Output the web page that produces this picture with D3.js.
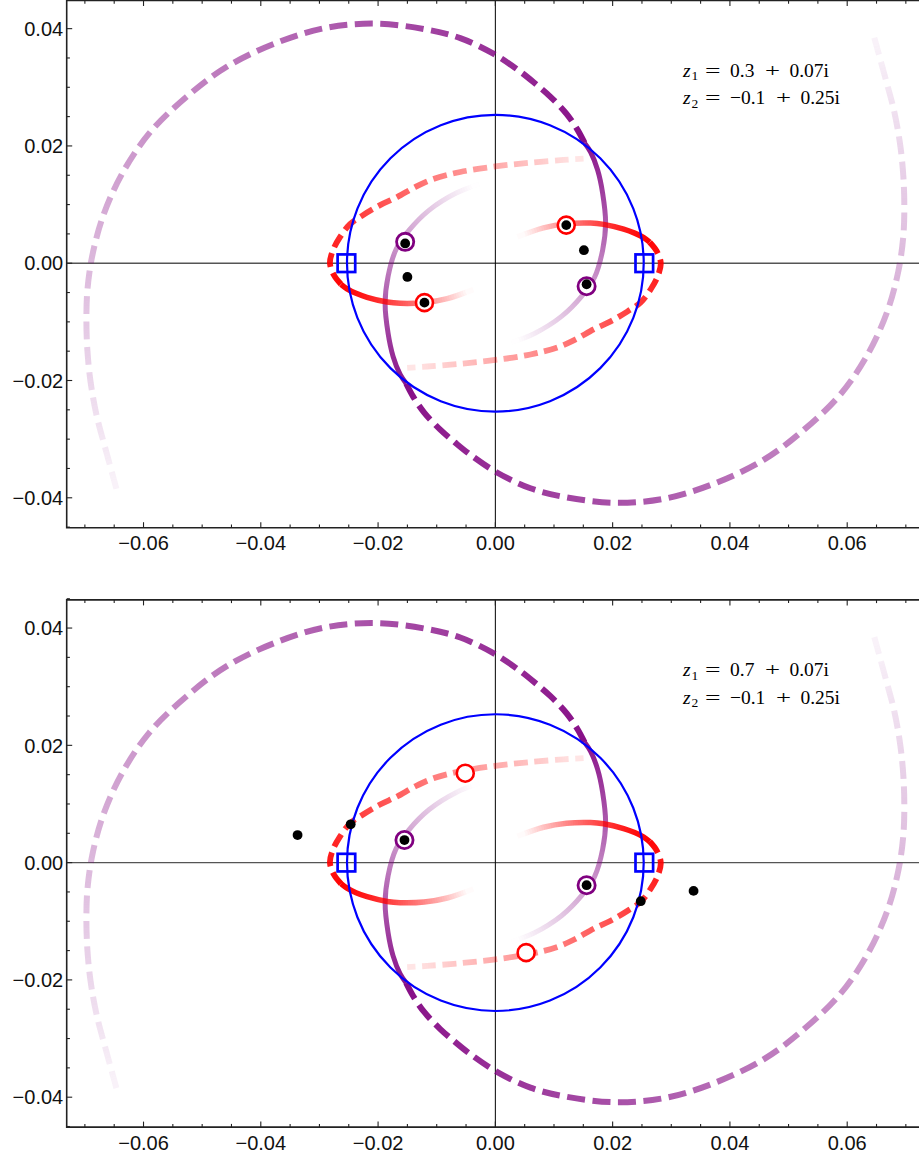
<!DOCTYPE html>
<html><head><meta charset="utf-8">
<script src="https://cdn.jsdelivr.net/npm/d3@7"></script>
<style>body{margin:0;background:#fff}svg{display:block}</style>
</head><body>
<svg id="c" width="919" height="1155"></svg>
<script>
// ---------- data ----------
const xTicks = [-0.06,-0.04,-0.02,0.00,0.02,0.04,0.06];
const yTicks = [-0.04,-0.02,0.00,0.02,0.04];
const xMinor = [-0.07,-0.065,-0.055,-0.05,-0.045,-0.035,-0.03,-0.025,-0.015,-0.01,-0.005,0.005,0.01,0.015,0.025,0.03,0.035,0.045,0.05,0.055,0.065,0.07];
const yMinor = [-0.045,-0.035,-0.03,-0.025,-0.015,-0.01,-0.005,0.005,0.01,0.015,0.025,0.03,0.035,0.045];

const z1Labels = ["0.3 + 0.07i", "0.7 + 0.07i"];
const z2Labels = ["\u22120.1 + 0.25i", "\u22120.1 + 0.25i"];

const unitCircleR = 0.0253;
const squarePts = [[-0.0254,0],[0.0254,0]];

// red branches (from junction outward)
const redDashA = [[-0.02632,-0.00359],[-0.02752,-0.00205],[-0.02821,0.00000],[-0.02769,0.00222],[-0.02650,0.00444],[-0.02479,0.00667],[-0.02256,0.00821],[-0.01966,0.00991],[-0.01675,0.01128],[-0.01368,0.01299],[-0.01060,0.01436],[-0.00598,0.01556],[0.00000,0.01650],[0.00598,0.01715],[0.01162,0.01761],[0.01504,0.01783]];
const redSolidA = [[-0.02632,-0.00359],[-0.02530,-0.00436],[-0.02376,-0.00513],[-0.02188,-0.00581],[-0.01846,-0.00662],[-0.01624,-0.00684],[-0.01214,-0.00672],[-0.00821,-0.00603],[-0.00376,-0.00450]];
const redDashB = [[0.02632,0.00359],[0.02752,0.00205],[0.02821,0.00000],[0.02769,-0.00222],[0.02650,-0.00444],[0.02479,-0.00667],[0.02256,-0.00821],[0.01966,-0.00991],[0.01675,-0.01128],[0.01368,-0.01299],[0.01060,-0.01436],[0.00598,-0.01556],[0.00000,-0.01650],[-0.00598,-0.01715],[-0.01162,-0.01761],[-0.01504,-0.01783]];
const redSolidB = [[0.02632,0.00359],[0.02530,0.00436],[0.02376,0.00513],[0.02188,0.00581],[0.01846,0.00662],[0.01624,0.00684],[0.01214,0.00672],[0.00821,0.00603],[0.00376,0.00450]];

// purple branches (from junction outward)
const purpleDashA = [[0.01521,0.02051],[0.01402,0.02274],[0.01214,0.02547],[0.00940,0.02838],[0.00684,0.03060],[0.00427,0.03265],[-0.00034,0.03573],[-0.00598,0.03838],[-0.01162,0.03983],[-0.02017,0.04085],[-0.02872,0.04017],[-0.03726,0.03761],[-0.04581,0.03350],[-0.05265,0.02838],[-0.05897,0.02222],[-0.06359,0.01538],[-0.06684,0.00821],[-0.06872,0.00137],[-0.06957,-0.00462],[-0.06974,-0.00974],[-0.06957,-0.01487],[-0.06906,-0.02000],[-0.06803,-0.02581],[-0.06650,-0.03162],[-0.06462,-0.03846]];
const purpleSolidA = [[0.01521,0.02051],[0.01624,0.01897],[0.01744,0.01590],[0.01829,0.01197],[0.01880,0.00684],[0.01829,0.00222],[0.01692,-0.00239],[0.01470,-0.00564],[0.01128,-0.00906],[0.00667,-0.01197],[0.00274,-0.01350]];
const purpleDashB = [[-0.01521,-0.02051],[-0.01402,-0.02274],[-0.01214,-0.02547],[-0.00940,-0.02838],[-0.00684,-0.03060],[-0.00427,-0.03265],[0.00034,-0.03573],[0.00598,-0.03838],[0.01162,-0.03983],[0.02017,-0.04085],[0.02872,-0.04017],[0.03726,-0.03761],[0.04581,-0.03350],[0.05265,-0.02838],[0.05897,-0.02222],[0.06359,-0.01538],[0.06684,-0.00821],[0.06872,-0.00137],[0.06957,0.00462],[0.06974,0.00974],[0.06957,0.01487],[0.06906,0.02000],[0.06803,0.02581],[0.06650,0.03162],[0.06462,0.03846]];
const purpleSolidB = [[-0.01521,-0.02051],[-0.01624,-0.01897],[-0.01744,-0.01590],[-0.01829,-0.01197],[-0.01880,-0.00684],[-0.01829,-0.00222],[-0.01692,0.00239],[-0.01470,0.00564],[-0.01128,0.00906],[-0.00667,0.01197],[-0.00274,0.01350]];

// markers per panel
const redRings = [
  [[0.01209,0.0065],[-0.01209,-0.00672]],
  [[-0.00513,0.01525],[0.00525,-0.01535]]
];
const purpleRings = [
  [[-0.01538,0.00364],[0.01556,-0.00393]],
  [[-0.0155,0.00385],[0.01556,-0.00385]]
];
const blackDots = [
  [[0.01209,0.0065],[-0.01209,-0.00672],[-0.01538,0.00337],[0.01556,-0.00359],[-0.0150,-0.00234],[0.0151,0.00222]],
  [[-0.0155,0.00385],[0.01556,-0.00385],[-0.02467,0.00653],[-0.03373,0.0047],[0.02479,-0.00658],[0.0338,-0.00482]]
];

// ---------- drawing ----------
const svg = d3.select("#c");
const defs = svg.append("defs");
const fmt = d3.format(".2f");
const panelOffsets = [0, 599.4];
const FL = 66.7, FR = 924, FT = 0.5, FB = 527.7;
let maskCount = 0;

// one continuous stroke, faded along its length by a luminance mask
function drawBranch(g, x, y, pts, st){
  const line = d3.line().x(d=>x(d[0])).y(d=>y(d[1])).curve(d3.curveCatmullRom.alpha(0.5));
  const dPath = line(pts);
  const tmp = g.append("path").attr("d", dPath).attr("fill","none").attr("stroke","none");
  const node = tmp.node();
  const L = node.getTotalLength();
  tmp.remove();
  const id = "fade" + (maskCount++);
  const mask = defs.append("mask").attr("id", id).attr("maskUnits","userSpaceOnUse")
    .attr("x",0).attr("y",0).attr("width",919).attr("height",1155);
  const n = Math.max(2, Math.ceil(L/2.5));
  for (let i=0;i<n;i++){
    const s0 = i*L/n, s1 = (i+1)*L/n;
    const p0 = node.getPointAtLength(s0), p1 = node.getPointAtLength(s1);
    const f = ((s0+s1)/2)/L;
    const op = Math.max(0, Math.min(1, st.op0 + (st.op1-st.op0)*Math.pow(f, st.exp||1)));
    const v = Math.round(op*255);
    mask.append("path").attr("d", `M${p0.x},${p0.y}L${p1.x},${p1.y}`)
      .attr("fill","none").attr("stroke",`rgb(${v},${v},${v})`)
      .attr("stroke-width", st.width+6).attr("stroke-linecap","round");
  }
  const p = g.append("path").attr("d", dPath).attr("fill","none")
    .attr("stroke", st.color).attr("stroke-width", st.width)
    .attr("stroke-linecap","butt").attr("mask", `url(#${id})`);
  if (st.dash) p.attr("stroke-dasharray", st.dash.join(" "));
}

panelOffsets.forEach((oy, pi) => {
  const x = d3.scaleLinear().domain([-0.0731, 0.0731]).range([FL, FL + 0.1462*5864]);
  const y = d3.scaleLinear().domain([-0.0451, 0.0448]).range([oy+FB, oy+FT]);
  const g = svg.append("g");
  const clipId = "clip"+pi;
  defs.append("clipPath").attr("id",clipId).append("rect")
    .attr("x",FL).attr("y",oy+FT).attr("width",FR-FL).attr("height",FB-FT);
  const plot = g.append("g").attr("clip-path",`url(#${clipId})`);

  // axes through origin
  plot.append("line").attr("x1",FL).attr("x2",FR).attr("y1",y(0)).attr("y2",y(0))
    .attr("stroke","#555").attr("stroke-width",1.4);
  plot.append("line").attr("x1",x(0)).attr("x2",x(0)).attr("y1",oy+FT).attr("y2",oy+FB)
    .attr("stroke","#000").attr("stroke-width",1);

  const purpleDash = {color:"#800080", width:6, dash:[18,7.5], op0:0.95, op1:0.05};
  const purpleSolid = {color:"#800080", width:5, op0:0.92, op1:0.0, exp:1.2};
  const redDash = {color:"#ff0000", width:5.8, dash:[14,6.5], op0:1, op1:0.1};
  const redSolid = {color:"#ff0000", width:5.5, op0:1, op1:0.0, exp:1.6};

  drawBranch(plot, x, y, purpleDashA, purpleDash);
  drawBranch(plot, x, y, purpleDashB, purpleDash);
  drawBranch(plot, x, y, purpleSolidA, purpleSolid);
  drawBranch(plot, x, y, purpleSolidB, purpleSolid);
  drawBranch(plot, x, y, redDashA, redDash);
  drawBranch(plot, x, y, redDashB, redDash);
  drawBranch(plot, x, y, redSolidA, redSolid);
  drawBranch(plot, x, y, redSolidB, redSolid);

  // unit circle (blue)
  const k = x(1)-x(0);
  plot.append("circle").attr("cx",x(0)).attr("cy",y(0)).attr("r",unitCircleR*k)
    .attr("fill","none").attr("stroke","#0000ff").attr("stroke-width",2.2);

  // squares
  plot.selectAll(null).data(squarePts).join("rect")
    .attr("x",d=>x(d[0])-8.8).attr("y",d=>y(d[1])-8.8).attr("width",17.6).attr("height",17.6)
    .attr("fill","none").attr("stroke","#0000ff").attr("stroke-width",2.7);

  // rings
  plot.selectAll(null).data(redRings[pi]).join("circle")
    .attr("cx",d=>x(d[0])).attr("cy",d=>y(d[1])).attr("r",8.5)
    .attr("fill","#fff").attr("stroke","#ff0000").attr("stroke-width",2.6);
  plot.selectAll(null).data(purpleRings[pi]).join("circle")
    .attr("cx",d=>x(d[0])).attr("cy",d=>y(d[1])).attr("r",8.6)
    .attr("fill","#fff").attr("stroke","#800080").attr("stroke-width",2.8);
  plot.selectAll(null).data(blackDots[pi]).join("circle")
    .attr("cx",d=>x(d[0])).attr("cy",d=>y(d[1])).attr("r",4.9)
    .attr("fill","#000");

  // frame
  g.append("path").attr("d",`M${FR},${oy+FB}H${FL}V${oy+FT}H${FR}`)
    .attr("fill","none").attr("stroke","#222").attr("stroke-width",1.6);

  // ticks
  const tk = g.append("g").attr("stroke","#222").attr("stroke-width",1.1);
  xTicks.forEach(v=>{
    tk.append("line").attr("x1",x(v)).attr("x2",x(v)).attr("y1",oy+FB).attr("y2",oy+FB-5.5);
    tk.append("line").attr("x1",x(v)).attr("x2",x(v)).attr("y1",oy+FT).attr("y2",oy+FT+5.5);
  });
  xMinor.forEach(v=>{
    tk.append("line").attr("x1",x(v)).attr("x2",x(v)).attr("y1",oy+FB).attr("y2",oy+FB-3.2);
    tk.append("line").attr("x1",x(v)).attr("x2",x(v)).attr("y1",oy+FT).attr("y2",oy+FT+3.2);
  });
  yTicks.forEach(v=>{
    tk.append("line").attr("x1",FL).attr("x2",FL+5.5).attr("y1",y(v)).attr("y2",y(v));
  });
  yMinor.forEach(v=>{
    tk.append("line").attr("x1",FL).attr("x2",FL+3.2).attr("y1",y(v)).attr("y2",y(v));
  });

  // tick labels
  const lab = g.append("g").attr("font-family","'Liberation Sans', Arial, sans-serif").attr("font-size",20).attr("fill","#111");
  xTicks.forEach(v=>{
    lab.append("text").attr("x",x(v)).attr("y",oy+FB+22.5).attr("text-anchor","middle").text(fmt(v));
  });
  yTicks.forEach(v=>{
    lab.append("text").attr("x",FL-3.5).attr("y",y(v)+7.2).attr("text-anchor","end").text(fmt(v));
  });

  // annotation
  const ann = g.append("g").attr("font-family","'Liberation Serif', 'Times New Roman', serif").attr("font-size",19.5).attr("fill","#000");
  [[z1Labels[pi],"1",oy+76.7],[z2Labels[pi],"2",oy+104.3]].forEach(([txt,sub,by])=>{
    ann.append("text").attr("x",683).attr("y",by).attr("font-style","italic").text("z");
    ann.append("text").attr("x",691.5).attr("y",by+3.5).attr("font-size",13.5).text(sub);
    ann.append("text").attr("x",705).attr("y",by).attr("textLength",15.5).attr("lengthAdjust","spacingAndGlyphs").text("=");
    const parts = txt.split(" + ");
    let cx = 730;
    const t1 = ann.append("text").attr("x",cx).attr("y",by).text(parts[0]);
    cx += t1.node().getComputedTextLength() + 10.5;
    ann.append("text").attr("x",cx).attr("y",by).attr("textLength",15).attr("lengthAdjust","spacingAndGlyphs").text("+");
    cx += 15 + 9.5;
    ann.append("text").attr("x",cx).attr("y",by).text(parts[1]);
  });
});
</script>
</body></html>
